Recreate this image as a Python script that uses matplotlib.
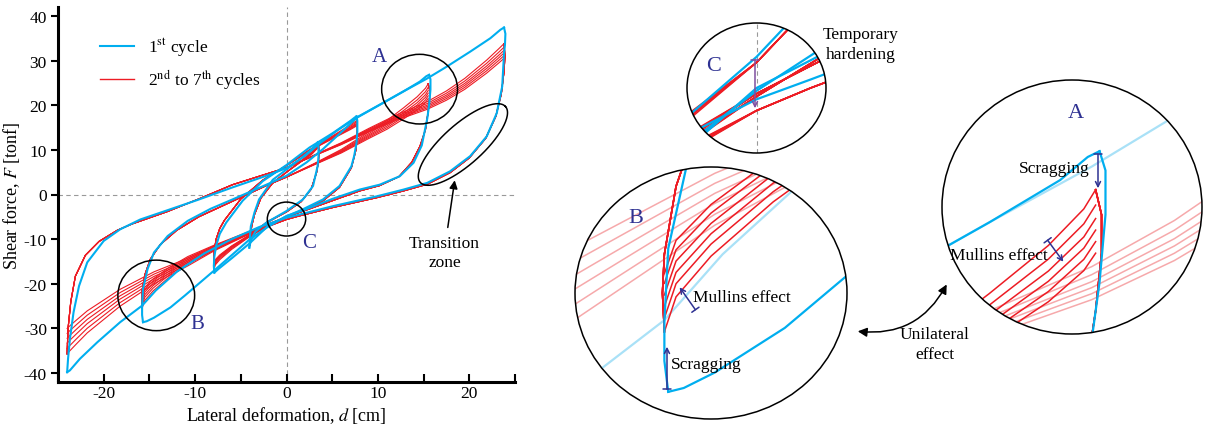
"""Hysteresis loops of a rubber bearing with zoomed details (A, B, C)."""

import matplotlib.pyplot as plt
import numpy as np
from matplotlib.lines import Line2D
from matplotlib.patches import Ellipse, FancyArrowPatch

plt.rcParams["font.family"] = "Liberation Serif"
plt.rcParams["mathtext.fontset"] = "stix"
plt.rcParams["axes.unicode_minus"] = False

BLUE = "#00aeef"
RED = "#ed1c24"
NAVY = "#2e3192"
PURPLE = "#7f4f9f"
FADED_RED = "#f6a9ab"
FADED_BLUE = "#a9e1f7"

# ---- data: (d [cm], F [tonf]) ----
# amplitude ~4 cm
amp4_blue_load = [(-4.07, -11.9), (-4.0, -9.5), (-3.9, -7.1), (-3.5, -4.0), (-3.0, -1.1), (-1.5, 3.3),
                  (0.0, 5.6), (1.4, 7.8), (2.7, 10.0), (3.3, 11.3), (3.44, 11.7)]
amp4_blue_unload = [(3.44, 11.7), (3.5, 10.5), (3.5, 8.5), (3.4, 6.3), (2.9, 1.9), (1.8, -1.1), (0.0, -3.7),
                    (-2.2, -6.3), (-3.4, -8.3), (-3.9, -10.2), (-4.07, -11.9)]
amp4_red_load = [(-4.0, -11.3), (-3.95, -9.5), (-3.8, -7.0), (-3.5, -4.5), (-2.8, -0.8), (-1.5, 2.6),
                 (0.0, 5.0), (1.5, 7.4), (2.8, 9.6), (3.3, 10.8), (3.5, 11.3)]
amp4_red_unload = [(3.5, 11.3), (3.55, 9.5), (3.5, 7.5), (3.3, 5.0), (2.7, 1.2), (1.6, -1.6), (0.0, -3.9),
                   (-2.0, -6.2), (-3.3, -8.4), (-3.8, -9.8), (-4.0, -11.3)]
amp4_red_pos = [11.3, 11.1, 10.95, 10.8, 10.7, 10.6]
amp4_red_neg = [-11.3, -11.1, -10.95, -10.8, -10.7, -10.6]

# amplitude ~8 cm
amp8_blue_load = [(-7.9, -17.5), (-7.95, -16.0), (-7.9, -14.0), (-7.7, -11.5), (-7.3, -8.8), (-6.6, -6.3),
                  (-4.8, -1.4), (-2.6, 3.0), (0.0, 6.6), (2.5, 10.5), (5.1, 13.8), (7.0, 16.5),
                  (7.5, 17.3), (7.66, 17.5)]
amp8_blue_unload = [(7.66, 17.5), (7.75, 16.5), (7.75, 14.0), (7.66, 11.5), (7.4, 8.6), (7.1, 6.3), (5.8, 1.9),
                    (4.0, -1.1), (1.8, -3.3), (0.0, -4.9), (-2.0, -7.0), (-4.07, -11.0), (-6.0, -14.3),
                    (-7.4, -16.6), (-7.9, -17.5)]
amp8_red_load = [(-7.9, -16.6), (-7.95, -14.5), (-7.9, -12.5), (-7.7, -10.0), (-7.3, -7.6), (-6.8, -5.8),
                 (-5.0, -1.0), (-2.6, 3.2), (0.0, 6.5), (2.5, 10.0), (5.1, 13.2), (7.0, 15.6), (7.7, 16.6)]
amp8_red_unload = [(7.7, 16.6), (7.75, 15.0), (7.7, 12.5), (7.6, 10.0), (7.1, 6.0), (5.8, 1.6), (4.0, -1.4),
                   (1.8, -3.6), (0.0, -5.1), (-2.0, -7.0), (-4.0, -9.4), (-6.0, -12.3), (-7.3, -14.6),
                   (-7.8, -15.8), (-7.9, -16.6)]
amp8_red_pos = [16.6, 16.3, 16.0, 15.8, 15.6, 15.4]
amp8_red_neg = [-16.6, -16.3, -16.0, -15.8, -15.6, -15.4]

# amplitude ~16 cm
amp16_blue_load = [(-15.7, -28.6), (-15.8, -27.0), (-15.8, -25.0), (-15.7, -21.2), (-15.2, -16.7),
                   (-14.5, -13.0), (-13.0, -9.3), (-10.8, -5.9), (-8.3, -3.2), (-5.9, -1.1), (-2.2, 2.2),
                   (0.0, 4.2), (2.2, 7.2), (4.0, 10.2), (5.8, 13.6), (7.7, 17.2), (10.2, 20.1),
                   (12.8, 23.1), (14.6, 25.3), (15.3, 26.5), (15.6, 26.8)]
amp16_blue_unload = [(15.6, 26.8), (15.75, 25.8), (15.75, 23.5), (15.6, 20.0), (15.4, 17.0), (14.8, 11.0),
                     (13.9, 7.1), (12.4, 4.1), (10.2, 2.2), (8.0, 1.1), (5.0, -1.0), (2.0, -3.4),
                     (0.0, -4.8), (-2.0, -7.2), (-4.0, -10.0), (-6.0, -13.6), (-7.9, -17.0),
                     (-9.5, -19.8), (-11.1, -22.6), (-12.7, -25.3), (-14.5, -27.6), (-15.3, -28.4),
                     (-15.7, -28.6)]
amp16_red_load = [(-15.8, -25.5), (-15.85, -23.5), (-15.8, -21.5), (-15.5, -18.0), (-14.9, -14.5),
                  (-13.8, -11.2), (-12.0, -8.0), (-9.6, -5.0), (-6.0, -1.6), (-2.2, 2.0), (0.0, 3.9),
                  (3.0, 6.9), (6.0, 10.1), (9.0, 14.0), (11.0, 16.6), (12.8, 19.4), (14.3, 21.9),
                  (15.2, 23.8), (15.5, 24.8)]
amp16_red_unload = [(15.5, 24.8), (15.65, 23.5), (15.65, 21.5), (15.5, 18.5), (15.2, 14.5), (14.6, 10.8),
                    (13.7, 7.2), (12.3, 4.0), (10.2, 2.0), (8.0, 0.8), (5.0, -1.4), (2.0, -3.6),
                    (0.0, -5.0), (-4.0, -8.6), (-7.9, -12.4), (-10.8, -15.6), (-13.0, -18.8),
                    (-14.6, -21.6), (-15.5, -23.7), (-15.8, -25.5)]
amp16_red_pos = [24.8, 24.0, 23.3, 22.7, 22.1, 21.5]
amp16_red_neg = [-25.5, -24.8, -24.2, -23.6, -23.0, -22.5]

# amplitude ~24 cm
amp24_blue_load = [(-24.0, -39.8), (-23.9, -36.8), (-23.7, -32.4), (-23.3, -26.4), (-22.7, -20.5),
                   (-21.8, -15.2), (-20.0, -10.4), (-18.2, -7.8), (-16.0, -5.6), (-12.7, -3.3),
                   (-9.7, -1.2), (-5.9, 1.6), (-2.2, 4.2), (0.0, 5.9), (2.0, 8.6), (3.6, 11.4),
                   (5.6, 14.4), (7.8, 17.4), (10.2, 20.1), (12.8, 23.1), (15.4, 26.0), (17.5, 28.6),
                   (20.1, 32.0), (22.3, 35.0), (23.4, 36.9), (23.8, 37.4)]
amp24_blue_unload = [(23.8, 37.4), (23.95, 36.0), (23.9, 33.5), (23.8, 31.6), (23.6, 24.2), (23.0, 18.2),
                     (21.9, 13.0), (20.1, 8.6), (17.9, 5.2), (15.4, 2.6), (12.8, 1.1), (9.9, -0.4),
                     (5.1, -2.6), (1.4, -4.5), (0.0, -5.2), (-3.0, -7.3), (-6.0, -10.0), (-9.0, -13.2),
                     (-12.0, -17.3), (-14.3, -21.5), (-15.8, -24.9), (-18.2, -28.6), (-20.7, -33.1),
                     (-22.6, -36.8), (-23.7, -39.4), (-24.0, -39.8)]
amp24_red_load = [(-24.0, -35.7), (-23.95, -32.5), (-23.9, -30.0), (-23.6, -24.0), (-23.1, -18.3),
                  (-22.0, -13.6), (-20.5, -10.5), (-18.5, -8.0), (-16.9, -6.6), (-13.0, -3.8),
                  (-9.6, -1.0), (-5.9, 2.2), (-2.2, 4.6), (0.0, 6.0), (3.0, 8.8), (6.0, 11.6),
                  (9.0, 14.8), (12.0, 17.8), (15.4, 20.8), (17.5, 23.2), (19.5, 26.0), (21.9, 30.1),
                  (23.2, 32.6), (23.8, 33.8)]
amp24_red_unload = [(23.8, 33.8), (23.9, 31.0), (23.8, 27.5), (23.5, 22.5), (22.9, 17.5), (21.8, 12.6),
                    (20.0, 8.2), (17.9, 4.9), (15.4, 2.3), (12.8, 0.8), (9.9, -0.7), (5.1, -2.9),
                    (1.4, -4.8), (0.0, -5.6), (-4.0, -8.8), (-7.9, -12.6), (-10.8, -16.0),
                    (-14.5, -20.0), (-18.2, -25.0), (-21.8, -31.0), (-23.0, -33.5), (-23.7, -35.0),
                    (-24.0, -35.7)]
amp24_red_pos = [33.8, 33.0, 32.3, 31.7, 31.1, 30.5]
amp24_red_neg = [-35.7, -34.5, -33.3, -32.2, -31.1, -30.0]

LOOPS = [
    (amp4_blue_load, amp4_blue_unload, amp4_red_load, amp4_red_unload, amp4_red_pos, amp4_red_neg),
    (amp8_blue_load, amp8_blue_unload, amp8_red_load, amp8_red_unload, amp8_red_pos, amp8_red_neg),
    (amp16_blue_load, amp16_blue_unload, amp16_red_load, amp16_red_unload, amp16_red_pos, amp16_red_neg),
    (amp24_blue_load, amp24_blue_unload, amp24_red_load, amp24_red_unload, amp24_red_pos, amp24_red_neg),
]

# annotation circles on the main plot (data units)
circle_labels = ["A", "B", "C"]
circle_centers = [(14.56, 23.6), (-14.25, -22.6), (0.0, -5.5)]
circle_sizes = [(8.3, 15.6), (8.4, 15.8), (4.2, 7.6)]
label_positions = [(10.2, 30.9), (-9.75, -29.0), (2.5, -10.8)]

W, H = 1206, 427


def fxy(px, py):
    """Pixel position in the picture -> figure fraction."""
    return px / W, 1 - py / H


def red_cycles(load, unload, pos_peaks, neg_peaks):
    """Branches of cycles 2..7: the 2nd-cycle branch pulled towards each cycle's peak."""
    load = np.array(load)
    unload = np.array(unload)
    amp_pos = load[:, 0].max()
    amp_neg = -unload[:, 0].min()
    w_pos = np.clip(load[:, 0] / amp_pos, 0, 1) ** 1.5
    w_neg = np.clip(-unload[:, 0] / amp_neg, 0, 1) ** 1.5
    out = []
    for p, n in zip(pos_peaks, neg_peaks):
        out.append((load[:, 0], load[:, 1] - (pos_peaks[0] - p) * w_pos))
        out.append((unload[:, 0], unload[:, 1] + (n - neg_peaks[0]) * w_neg))
    return out


def draw_loops(ax, highlight=None, red_lw=0.8, blue_lw=1.4):
    lines = []
    for i, (bl, bu, rl, ru, rp, rn) in enumerate(LOOPS):
        strong = highlight is None or i == highlight
        for x, y in red_cycles(rl, ru, rp, rn):
            lines += ax.plot(x, y, color=RED if strong else FADED_RED, lw=red_lw,
                             zorder=2 if strong else 1, solid_joinstyle="round")
    for i, (bl, bu, rl, ru, rp, rn) in enumerate(LOOPS):
        strong = highlight is None or i == highlight
        for branch in (bl, bu):
            b = np.array(branch)
            lines += ax.plot(b[:, 0], b[:, 1], color=BLUE if strong else FADED_BLUE, lw=blue_lw,
                             zorder=3 if strong else 1, solid_joinstyle="round")
    return lines


fig = plt.figure(figsize=(W / 100, H / 100), dpi=100)

# ---------------- main hysteresis plot ----------------
ax = fig.add_axes([58 / W, 1 - 383 / H, (515 - 58) / W, (383 - 8) / H])
ax.axhline(0, color="#999999", lw=0.8, ls=(0, (4, 3)), zorder=0)
ax.axvline(0, color="#999999", lw=0.8, ls=(0, (4, 3)), zorder=0)
draw_loops(ax, red_lw=0.8, blue_lw=1.5)

ax.set_xlim(-25, 25)
ax.set_ylim(-42, 42)
ax.set_xticks(np.arange(-25, 26, 5))
ax.set_xticklabels(["" if v % 10 else f"{v}" for v in range(-25, 26, 5)])
ax.set_yticks(np.arange(-40, 41, 10))
ax.tick_params(axis="x", direction="in", length=6, width=1.5, labelsize=12.5, pad=2)
ax.tick_params(axis="y", direction="out", length=5, width=1.5, labelsize=12.5, pad=3)
for side in ("top", "right"):
    ax.spines[side].set_visible(False)
for side in ("left", "bottom"):
    ax.spines[side].set_linewidth(2.2)
ax.set_xlabel("Lateral deformation, $d$ [cm]", fontsize=13)
ax.set_ylabel("Shear force, $F$ [tonf]", fontsize=13)
ax.xaxis.set_label_coords(0.5, -0.06)
ax.yaxis.set_label_coords(-0.078, 0.5)

for (cx, cy), (w, h), lab, (lx, ly) in zip(circle_centers, circle_sizes, circle_labels, label_positions):
    ax.add_patch(Ellipse((cx, cy), w, h, fill=False, ec="k", lw=1.1, zorder=5))
    ax.text(lx, ly, lab, color=NAVY, fontsize=15, ha="center", va="center")

# transition zone ellipse (drawn in pixel space, converted to data)
t = np.linspace(0, 2 * np.pi, 200)
th = np.deg2rad(42)
ex = 57 * np.cos(t) * np.cos(th) - 20 * np.sin(t) * np.sin(th)
ey = 57 * np.cos(t) * np.sin(th) + 20 * np.sin(t) * np.cos(th)
ax.plot(19.3 + ex / 9.1, 11.2 + ey / 4.48, color="k", lw=1.1, zorder=5)
ax.annotate("", xy=(18.45, 3.8), xytext=(17.6, -8.0),
            arrowprops=dict(arrowstyle="-|>", color="k", lw=1.1, mutation_scale=12))
ax.text(17.3, -13.0, "Transition\nzone", fontsize=12.5, ha="center", va="center", linespacing=1.25)

handles = [Line2D([], [], color=BLUE, lw=1.5), Line2D([], [], color=RED, lw=1.0)]
ax.legend(handles, ["1$^{\\mathrm{st}}$ cycle", "2$^{\\mathrm{nd}}$ to 7$^{\\mathrm{th}}$ cycles"],
          loc="upper left", bbox_to_anchor=(0.057, 0.965), frameon=False, fontsize=12.5,
          handlelength=2.0, labelspacing=0.55, handletextpad=0.8)


# ---------------- zoomed circles ----------------
def make_inset(box, xlim, ylim, highlight):
    (x0, y0), (x1, y1) = fxy(box[0], box[3]), fxy(box[2], box[1])
    iax = fig.add_axes([x0, y0, x1 - x0, y1 - y0])
    iax.set_xlim(xlim)
    iax.set_ylim(ylim)
    iax.axis("off")
    clip = Ellipse((0.5, 0.5), 1, 1, transform=iax.transAxes, fc="none", ec="none")
    iax.add_patch(clip)
    lines = draw_loops(iax, highlight=highlight, red_lw=1.1, blue_lw=1.6)
    if highlight is None:
        lines += [iax.axvline(0, color="#999999", lw=0.8, ls=(0, (4, 3)), zorder=0)]
    for ln in lines:
        ln.set_clip_path(clip)
    iax.add_patch(Ellipse((0.5, 0.5), 1, 1, transform=iax.transAxes, fill=False,
                          ec="k", lw=1.1, clip_on=False, zorder=10))
    return iax


make_inset((687, 24, 826, 154), (-1.8, 1.8), (-7.1, -2.5), None)
make_inset((575, 168, 847, 420), (-18.1, -11.1), (-30.0, -17.0), 2)
make_inset((942, 81, 1202, 335), (11.6, 18.2), (17.3, 30.5), 2)


def fig_arrow(p0, p1, color, style="]->,widthA=0.35,lengthA=0", **kw):
    fig.add_artist(FancyArrowPatch(fxy(*p0), fxy(*p1), transform=fig.transFigure,
                                   arrowstyle=style, color=color, lw=1.1,
                                   mutation_scale=9, zorder=20, **kw))


def fig_text(px, py, s, **kw):
    fig.text(*fxy(px, py), s, **kw)


# inset C
fig_arrow((755, 58), (755, 112), PURPLE)
fig_text(714, 67, "C", color=NAVY, fontsize=16, ha="center", va="center")
fig_text(861, 45, "Temporary\nhardening", fontsize=12.5, ha="center", va="center", linespacing=1.3)

# inset B
fig_text(636, 219, "B", color=NAVY, fontsize=16, ha="center", va="center")
fig_arrow((697, 313), (678, 286), NAVY)
fig_text(693, 298, "Mullins effect", fontsize=12.5, ha="left", va="center")
fig_arrow((667, 393), (667, 345), NAVY)
fig_text(671, 365, "Scragging", fontsize=12.5, ha="left", va="center")

# inset A
fig_text(1076, 114, "A", color=NAVY, fontsize=16, ha="center", va="center")
fig_arrow((1098, 152), (1098, 192), NAVY)
fig_text(1019, 169, "Scragging", fontsize=12.5, ha="left", va="center")
fig_arrow((1046, 239), (1065, 265), NAVY)
fig_text(950, 256, "Mullins effect", fontsize=12.5, ha="left", va="center")

# unilateral effect
fig_arrow((855, 332), (948, 283), "k", style="<|-|>,head_length=0.6,head_width=0.3",
          connectionstyle="arc3,rad=0.35")
fig_text(935, 345, "Unilateral\neffect", fontsize=12.5, ha="center", va="center", linespacing=1.3)

fig.savefig("out.png", dpi=100)
